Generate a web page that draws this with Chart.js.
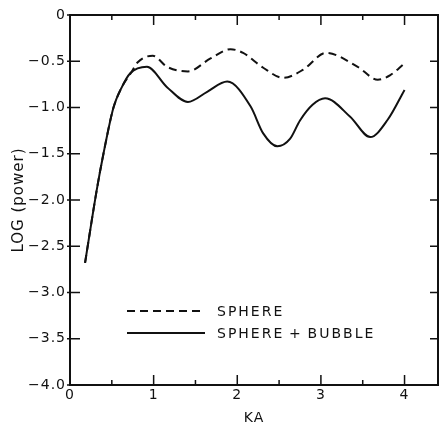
<!DOCTYPE html>
<html>
<head>
<meta charset="utf-8">
<script src="https://cdn.jsdelivr.net/npm/chart.js@4.4.1/dist/chart.umd.min.js"></script>
<style>
  body { margin: 0; background: #fff; }
  #wrap { width: 445px; height: 428px; }
</style>
</head>
<body>
<div id="wrap"><canvas id="js--chart" width="445" height="428"></canvas></div>
<script>
// values (KA, log power)
const kaSphere = [0.18, 0.32, 0.40, 0.52, 0.62, 0.74, 0.81, 0.99, 1.16, 1.41, 1.68, 1.92, 2.07, 2.31, 2.55, 2.79, 3.06, 3.44, 3.68, 3.83, 3.99];
const logSphere = [-2.68, -1.89, -1.50, -1.00, -0.78, -0.61, -0.51, -0.44, -0.56, -0.61, -0.47, -0.37, -0.41, -0.57, -0.68, -0.59, -0.41, -0.56, -0.70, -0.65, -0.53];

const kaBubble = [0.18, 0.32, 0.40, 0.52, 0.62, 0.72, 0.92, 1.16, 1.41, 1.64, 1.88, 2.16, 2.31, 2.48, 2.63, 2.75, 2.90, 3.05, 3.35, 3.59, 3.80, 4.00];
const logBubble = [-2.68, -1.89, -1.50, -1.00, -0.78, -0.63, -0.56, -0.78, -0.94, -0.83, -0.72, -0.99, -1.28, -1.42, -1.34, -1.14, -0.97, -0.90, -1.10, -1.32, -1.13, -0.81];

const seriesNames = ['SPHERE', 'SPHERE\u2009+\u2009BUBBLE'];
const xTicks = [0, 1, 2, 3, 4];
const yTicks = [0, -0.5, -1, -1.5, -2, -2.5, -3, -3.5, -4];

const ink = '#111';

function toPoints(xs, ys) {
    return xs.map((x, i) => ({ x: x, y: ys[i] }));
}

// frame + inward tick marks + legend
const framePlugin = {
    id: 'frame',
    beforeDraw(chart) {
        chart.ctx.letterSpacing = '1px';
    },
    afterDraw(chart) {
        const ctx = chart.ctx;
        const a = chart.chartArea;
        const xs = chart.scales.x;
        const ys = chart.scales.y;
        ctx.save();
        ctx.strokeStyle = ink;
        ctx.lineWidth = 2;
        ctx.strokeRect(a.left, a.top, a.right - a.left, a.bottom - a.top);
        ctx.lineWidth = 1.5;
        ctx.beginPath();
        for (let v = 0.5; v <= 4.4; v += 0.5) {
            const px = xs.getPixelForValue(v);
            const major = Math.abs(v - Math.round(v)) < 0.01;
            const len = major ? 10 : 5;
            ctx.moveTo(px, a.bottom); ctx.lineTo(px, a.bottom - len);
            ctx.moveTo(px, a.top); ctx.lineTo(px, a.top + len);
        }
        yTicks.forEach(v => {
            const py = ys.getPixelForValue(v);
            ctx.moveTo(a.left - 3, py); ctx.lineTo(a.left + 10, py);
            ctx.moveTo(a.right, py); ctx.lineTo(a.right - 8, py);
        });
        ctx.stroke();

        // legend
        ctx.letterSpacing = '2px';
        ctx.font = '14px "DejaVu Sans"';
        ctx.fillStyle = ink;
        ctx.textBaseline = 'middle';
        ctx.lineWidth = 2;
        const lx0 = a.left + 57, lx1 = a.left + 135, tx = a.left + 147;
        const rows = [a.top + 296, a.top + 318];
        rows.forEach((ry, i) => {
            ctx.setLineDash(i === 0 ? [8, 5] : []);
            ctx.beginPath();
            ctx.moveTo(lx0, ry); ctx.lineTo(lx1, ry);
            ctx.stroke();
            ctx.fillText(seriesNames[i], tx, ry + 1);
        });
        ctx.restore();
    }
};

const tickFont = { family: '"DejaVu Sans"', size: 14 };

new Chart(document.getElementById('js--chart'), {
    type: 'line',
    data: {
        datasets: [
            {
                label: seriesNames[0],
                data: toPoints(kaSphere, logSphere),
                borderColor: ink,
                borderWidth: 2,
                borderDash: [8, 5],
                pointRadius: 0,
                cubicInterpolationMode: 'monotone',
                fill: false
            },
            {
                label: seriesNames[1],
                data: toPoints(kaBubble, logBubble),
                borderColor: ink,
                borderWidth: 2,
                pointRadius: 0,
                cubicInterpolationMode: 'monotone',
                fill: false
            }
        ]
    },
    options: {
        responsive: false,
        animation: false,
        layout: { padding: { top: 15, right: 7, left: 0, bottom: 0 } },
        plugins: {
            legend: { display: false },
            tooltip: { enabled: false }
        },
        scales: {
            x: {
                type: 'linear',
                min: 0,
                max: 4.4,
                grid: { display: false, drawTicks: false },
                border: { display: false },
                afterFit: s => { s.height = 43; },
                afterBuildTicks: s => { s.ticks = xTicks.map(v => ({ value: v })); },
                ticks: {
                    autoSkip: false,
                    maxRotation: 0,
                    padding: 2,
                    color: ink,
                    font: tickFont,
                    callback: v => String(v)
                },
                title: {
                    display: true,
                    text: 'KA',
                    color: ink,
                    font: { family: '"DejaVu Sans"', size: 14 },
                    padding: { top: 0, bottom: 1 }
                }
            },
            y: {
                min: -4,
                max: 0,
                grid: { display: false, drawTicks: false },
                border: { display: false },
                afterFit: s => { s.width = 70; },
                afterBuildTicks: s => { s.ticks = yTicks.map(v => ({ value: v })); },
                ticks: {
                    autoSkip: false,
                    padding: 4,
                    color: ink,
                    font: tickFont,
                    callback: v => v === 0 ? '0' : v.toFixed(1).replace('-', '\u2212')
                },
                title: {
                    display: true,
                    text: 'LOG (power)',
                    color: ink,
                    font: { family: '"DejaVu Sans"', size: 15 },
                    padding: { top: 10, bottom: 0 }
                }
            }
        }
    },
    plugins: [framePlugin]
});
</script>
</body>
</html>
